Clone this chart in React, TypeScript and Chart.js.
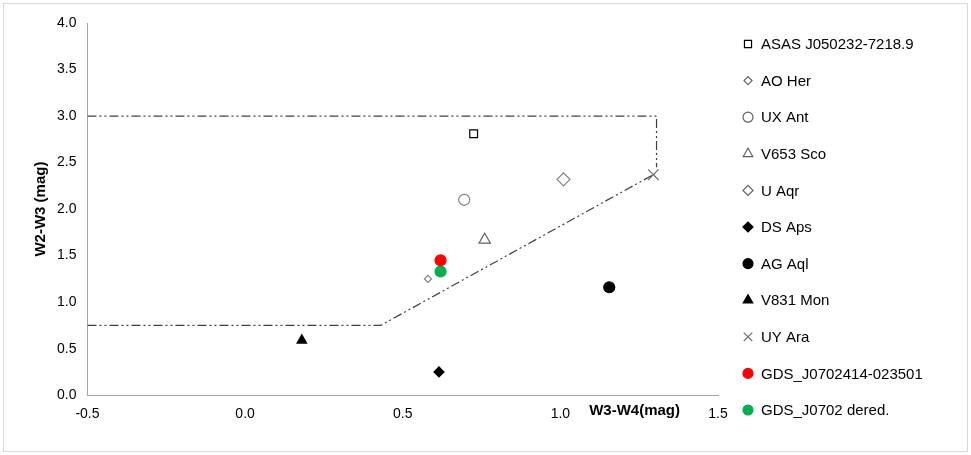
import { useEffect, useRef } from "react";
import { Chart, registerables } from "chart.js";
import { drawPoint } from "chart.js/helpers";

Chart.register(...registerables);

const seriesNames = [
  "ASAS J050232-7218.9",
  "AO Her",
  "UX Ant",
  "V653 Sco",
  "U Aqr",
  "DS Aps",
  "AG Aql",
  "V831 Mon",
  "UY Ara",
  "GDS_J0702414-023501",
  "GDS_J0702 dered.",
];
const xValues = [0.725, 0.58, 0.695, 0.76, 1.01, 0.615, 1.155, 0.18, 1.295, 0.62, 0.62];
const yValues = [2.81, 1.25, 2.1, 1.67, 2.32, 0.25, 1.16, 0.59, 2.37, 1.45, 1.33];
const pointStyles = ["rect", "rectRot", "circle", "triangle", "rectRot", "rectRot", "circle", "triangle", "crossRot", "circle", "circle"];
const fillColors = ["#ffffff", "#ffffff", "#ffffff", "#ffffff", "#ffffff", "#000000", "#000000", "#000000", "#ffffff", "#ff0000", "#00b050"];
const edgeColors = ["#000000", "#808080", "#808080", "#606060", "#808080", "#000000", "#000000", "#000000", "#707070", "#ff0000", "#00b050"];
const pointSizes = [5.5, 3.5, 5.5, 6.5, 6.5, 5, 5.5, 5.5, 7.5, 5.5, 5.5];
const legendSizes = [5, 4, 5, 5.5, 5, 5, 5, 5.5, 6, 5, 5];

// boundary of the region (dash-dot-dot)
const upperBoundX = [-0.5, 1.305, 1.305];
const upperBoundY = [3.0, 3.0, 2.45];
const lowerBoundX = [-0.5, 0.43, 1.3];
const lowerBoundY = [0.75, 0.75, 2.38];

const FONT = "'Liberation Sans', Arial, sans-serif";

const extrasPlugin = {
  id: "extras",
  afterDraw(chart: Chart) {
    const { ctx, chartArea } = chart;
    ctx.save();
    ctx.font = `bold 15px ${FONT}`;
    ctx.fillStyle = "#000";
    ctx.textAlign = "right";
    ctx.textBaseline = "middle";
    ctx.fillText("W3-W4(mag)", chartArea.right - 38, chartArea.bottom + 16);

    // legend on the right
    ctx.font = `15px ${FONT}`;
    ctx.textAlign = "left";
    seriesNames.forEach((name, i) => {
      const y = 40 + i * 36.6;
      const x = chartArea.right + 30;
      ctx.fillStyle = fillColors[i];
      ctx.strokeStyle = edgeColors[i] === "#808080" ? "#606060" : edgeColors[i];
      ctx.lineWidth = 1.2;
      drawPoint(ctx, { pointStyle: pointStyles[i] as any, radius: legendSizes[i], rotation: 0, borderWidth: 1.2 }, x, y);
      ctx.fillStyle = "#000";
      ctx.fillText(name, x + 13, y + 1);
    });
    ctx.restore();
  },
};

export default function App() {
  const canvasRef = useRef<HTMLCanvasElement>(null);
  const chartRef = useRef<Chart | null>(null);

  useEffect(() => {
    document.body.style.margin = "0";
    if (!canvasRef.current) return;
    const ctx = canvasRef.current.getContext("2d");
    if (!ctx) return;
    if (chartRef.current) chartRef.current.destroy();

    const boundary = (xs: number[], ys: number[], label: string) => ({
      type: "line" as const,
      label,
      data: xs.map((x, i) => ({ x, y: ys[i] })),
      borderColor: "#404040",
      borderWidth: 1.2,
      borderDash: [9, 3, 2, 3, 2, 3],
      pointRadius: 0,
      showLine: true,
      fill: false,
    });

    const points = seriesNames.map((name, i) => ({
      type: "scatter" as const,
      label: name,
      data: [{ x: xValues[i], y: yValues[i] }],
      pointStyle: pointStyles[i],
      backgroundColor: fillColors[i],
      borderColor: edgeColors[i],
      borderWidth: 1.2,
      pointRadius: pointSizes[i],
    }));

    chartRef.current = new Chart(ctx, {
      type: "scatter",
      data: { datasets: [boundary(upperBoundX, upperBoundY, "b1"), boundary(lowerBoundX, lowerBoundY, "b2"), ...points] as any },
      plugins: [extrasPlugin],
      options: {
        responsive: true,
        maintainAspectRatio: false,
        animation: false,
        layout: { padding: { top: 19, right: 249, left: 24, bottom: 25 } },
        plugins: {
          tooltip: { enabled: false },
          legend: { display: false },
        },
        scales: {
          x: {
            type: "linear",
            min: -0.5,
            max: 1.5,
            ticks: { stepSize: 0.5, color: "#000", font: { size: 14, family: FONT }, callback: (v) => Number(v).toFixed(1) },
            grid: { display: false },
            border: { color: "#a6a6a6" },
          },
          y: {
            min: 0,
            max: 4,
            ticks: { stepSize: 0.5, color: "#000", font: { size: 14, family: FONT }, callback: (v) => Number(v).toFixed(1) },
            grid: { display: false },
            border: { color: "#a6a6a6" },
            title: { display: true, text: "W2-W3 (mag)", color: "#000", font: { size: 15, weight: "bold", family: FONT } },
          },
        },
      },
    });

    return () => {
      chartRef.current?.destroy();
      chartRef.current = null;
    };
  }, []);

  return (
    <div style={{ width: 963, height: 447, margin: 3, border: "1px solid #d9d9d9", position: "relative" }}>
      <canvas ref={canvasRef} />
    </div>
  );
}
